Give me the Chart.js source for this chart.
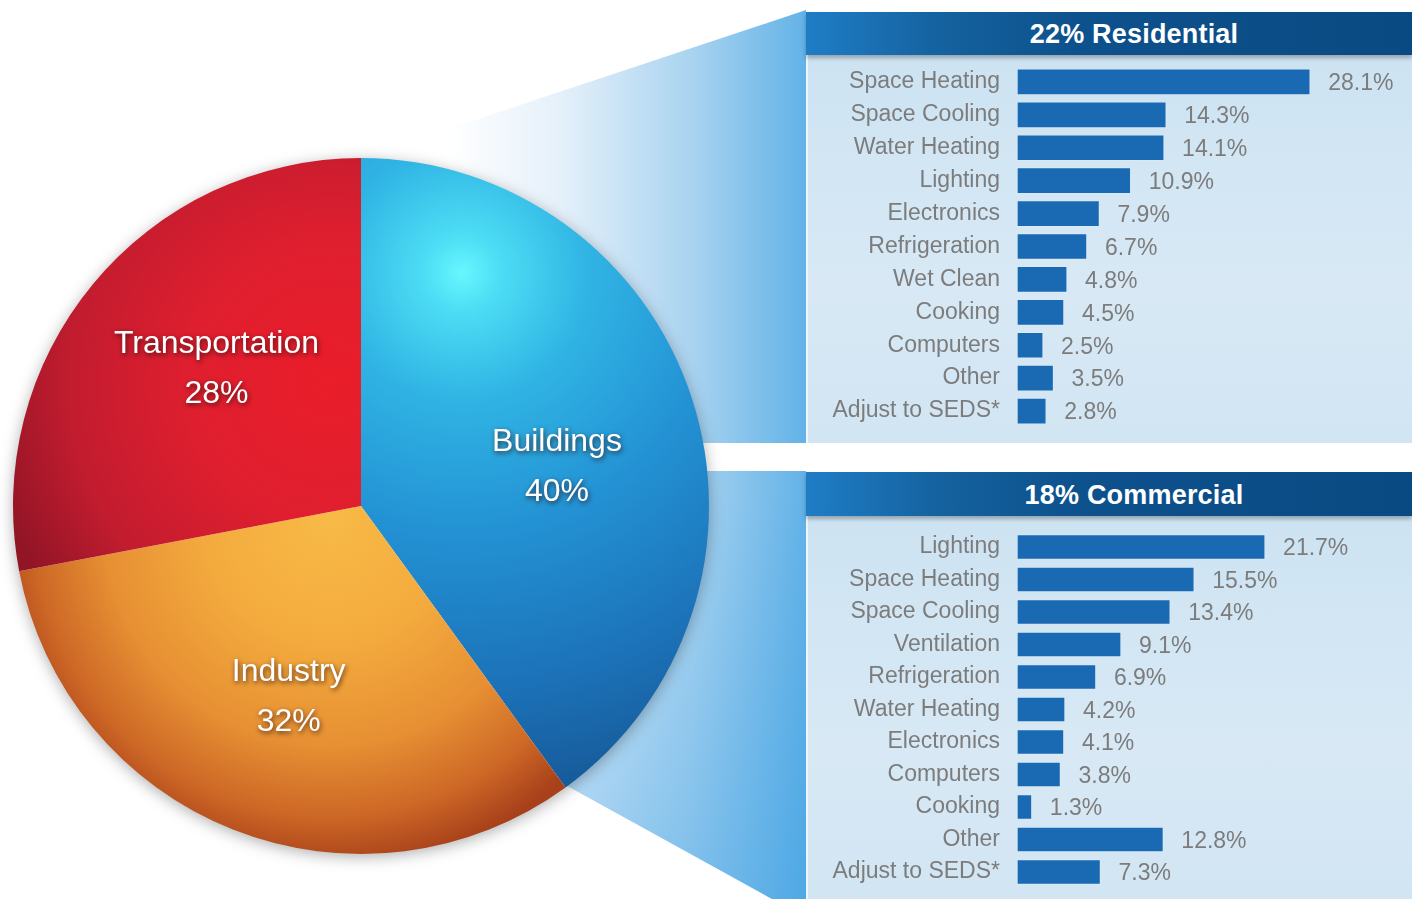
<!DOCTYPE html>
<html>
<head>
<meta charset="utf-8">
<script src="https://cdn.jsdelivr.net/npm/chart.js@4.4.1/dist/chart.umd.min.js"></script>
<style>
  html, body { margin: 0; padding: 0; background: #fff; }
  #stage { position: relative; width: 1412px; height: 899px; overflow: hidden; background: #fff;
           font-family: "Liberation Sans", Arial, sans-serif; }
  .funnel { position: absolute; left: 400px; top: 0; width: 406px; height: 899px;
            clip-path: polygon(30px 135px, 406px 10px, 406px 899px, 372px 899px, 160px 782px);
            background:
              linear-gradient(to bottom, rgba(40,150,225,0) 55%, rgba(40,150,225,0.35) 100%),
              linear-gradient(to right, #ffffff 12%, #e4f0fa 40%, #a9d3f0 72%, #62b2e7 100%); }
  .gap { position: absolute; left: 690px; top: 443px; width: 722px; height: 28px; background: #fff; }
  .panel-body { position: absolute; left: 806px; width: 606px; box-sizing: border-box;
                border-left: 2px solid #eef6fc;
                background: linear-gradient(to bottom, #cde3f2, #d8e9f5 60%, #d2e5f3); }
  .panel-head { position: absolute; left: 806px; width: 606px; box-sizing: border-box;
                padding-left: 50px; text-align: center; color: #fff; font-weight: bold;
                font-size: 27px; letter-spacing: 0.2px;
                background: linear-gradient(to right, #1f7dc6 0%, #14629f 22%, #0d518d 45%, #0a4a82 100%);
                box-shadow: 0 3px 4px rgba(0,0,0,0.28); z-index: 2; }
  canvas { position: absolute; }
</style>
</head>
<body>
<div id="stage">
  <div class="funnel"></div>
  <div class="gap"></div>

  <div class="panel-body" style="top:55px;height:388px;"></div>
  <div class="panel-head" id="resHead" style="top:12px;height:43px;line-height:45px;"></div>
  <canvas id="resChart" width="606" height="388" style="left:806px;top:55px;z-index:3;"></canvas>

  <div class="panel-body" style="top:516px;height:383px;"></div>
  <div class="panel-head" id="comHead" style="top:472px;height:44px;line-height:46px;"></div>
  <canvas id="comChart" width="606" height="383" style="left:806px;top:516px;z-index:3;"></canvas>

  <canvas id="pieChart" width="742" height="742" style="left:-10px;top:135px;z-index:4;"></canvas>
</div>

<script>
// end-use energy shares
const pieLabels = ['Buildings', 'Industry', 'Transportation'];
const pieShares = [40, 32, 28];

const resTitle = '22% Residential';
const resLabels = ['Space Heating', 'Space Cooling', 'Water Heating', 'Lighting', 'Electronics',
  'Refrigeration', 'Wet Clean', 'Cooking', 'Computers', 'Other', 'Adjust to SEDS*'];
const resValues = [28.1, 14.3, 14.1, 10.9, 7.9, 6.7, 4.8, 4.5, 2.5, 3.5, 2.8];

const comTitle = '18% Commercial';
const comLabels = ['Lighting', 'Space Heating', 'Space Cooling', 'Ventilation', 'Refrigeration',
  'Water Heating', 'Electronics', 'Computers', 'Cooking', 'Other', 'Adjust to SEDS*'];
const comValues = [21.7, 15.5, 13.4, 9.1, 6.9, 4.2, 4.1, 3.8, 1.3, 12.8, 7.3];

const FONT = '"Liberation Sans", Arial, sans-serif';
const GREY = '#7c7c7c';

document.getElementById('resHead').textContent = resTitle;
document.getElementById('comHead').textContent = comTitle;

// ---- pie ----
// each slice gets its own radial shading, offsets are relative to the pie radius
const sliceShading = [
  { fx: 0.29, fy: -0.67, rr: 1.65, stops: [[0, '#66f7ff'], [0.07, '#4cdcf4'], [0.22, '#30b4e4'], [0.45, '#2392d4'], [0.72, '#1c72b8'], [1, '#14508c']] },
  { fx: -0.09, fy: 0.04, rr: 1.0, stops: [[0, '#f8ba46'], [0.35, '#f4ab3e'], [0.65, '#e68f33'], [0.85, '#cd6826'], [1, '#a8401a']] },
  { fx: -0.09, fy: -0.36, rr: 1.0, stops: [[0, '#ea1d2a'], [0.4, '#df1f2f'], [0.75, '#c21c2f'], [1, '#921526']] }
];
const flatColors = ['#2394d5', '#f0a33c', '#d41f31'];
const labelShift = [[4, 24], [2, 4], [11, -8]];

function sliceFill(c) {
  const area = c.chart.chartArea;
  if (!area) return flatColors[c.dataIndex];
  const cx = (area.left + area.right) / 2;
  const cy = (area.top + area.bottom) / 2;
  const r = Math.min(area.right - area.left, area.bottom - area.top) / 2;
  const s = sliceShading[c.dataIndex];
  const gx = cx + s.fx * r, gy = cy + s.fy * r;
  const g = c.chart.ctx.createRadialGradient(gx, gy, 0, gx, gy, s.rr * r);
  s.stops.forEach(([p, col]) => g.addColorStop(p, col));
  return g;
}

const pieDecor = {
  id: 'pieDecor',
  beforeDatasetsDraw(chart) {
    // soft drop shadow under the whole disc
    const arc = chart.getDatasetMeta(0).data[0];
    if (!arc) return;
    const { x, y, outerRadius } = arc.getProps(['x', 'y', 'outerRadius'], true);
    const ctx = chart.ctx;
    ctx.save();
    ctx.shadowColor = 'rgba(0,0,0,0.35)';
    ctx.shadowBlur = 16;
    ctx.shadowOffsetY = 3;
    ctx.fillStyle = '#ffffff';
    ctx.beginPath();
    ctx.arc(x, y, outerRadius - 1, 0, Math.PI * 2);
    ctx.fill();
    ctx.restore();
  },
  afterDatasetsDraw(chart) {
    const ctx = chart.ctx;
    chart.getDatasetMeta(0).data.forEach((arc, i) => {
      const { x, y, startAngle, endAngle, outerRadius } =
        arc.getProps(['x', 'y', 'startAngle', 'endAngle', 'outerRadius'], true);
      const mid = (startAngle + endAngle) / 2;
      const tx = x + Math.cos(mid) * outerRadius * 0.58 + labelShift[i][0];
      const ty = y + Math.sin(mid) * outerRadius * 0.58 + labelShift[i][1];
      ctx.save();
      ctx.font = '32px ' + FONT;
      ctx.fillStyle = '#ffffff';
      ctx.textAlign = 'center';
      ctx.textBaseline = 'middle';
      ctx.shadowColor = 'rgba(40,10,10,0.75)';
      ctx.shadowBlur = 5;
      ctx.shadowOffsetX = 1;
      ctx.shadowOffsetY = 2;
      ctx.fillText(pieLabels[i], tx, ty - 25);
      ctx.fillText(pieShares[i] + '%', tx, ty + 25);
      ctx.restore();
    });
  }
};

new Chart(document.getElementById('pieChart'), {
  type: 'pie',
  data: {
    labels: pieLabels,
    datasets: [{ data: pieShares, backgroundColor: sliceFill, borderWidth: 0 }]
  },
  options: {
    responsive: false,
    animation: false,
    layout: { padding: 23 },
    plugins: { legend: { display: false }, tooltip: { enabled: false } }
  },
  plugins: [pieDecor]
});

// ---- horizontal bar panels ----
const valueLabels = {
  id: 'valueLabels',
  afterDatasetsDraw(chart) {
    const ctx = chart.ctx;
    const values = chart.data.datasets[0].data;
    chart.getDatasetMeta(0).data.forEach((bar, i) => {
      ctx.save();
      ctx.font = '23px ' + FONT;
      ctx.fillStyle = GREY;
      ctx.textAlign = 'left';
      ctx.textBaseline = 'middle';
      ctx.fillText(values[i].toFixed(1) + '%', bar.x + 18, bar.y + 2);
      ctx.restore();
    });
  }
};

function barPanel(id, labels, values, padRight, padTop, padBottom, thickness) {
  return new Chart(document.getElementById(id), {
    type: 'bar',
    data: {
      labels: labels,
      datasets: [{
        data: values,
        backgroundColor: '#1a69b3',
        borderColor: 'rgba(220,235,247,0.7)',
        borderWidth: 1,
        borderSkipped: false,
        barThickness: thickness
      }]
    },
    options: {
      indexAxis: 'y',
      responsive: false,
      animation: false,
      layout: { padding: { left: 0, right: padRight, top: padTop, bottom: padBottom } },
      scales: {
        x: { display: false, min: 0, max: 30 },
        y: {
          // fixed label column; drop the label overhang so rows fill the panel
          afterFit(scale) {
            scale.width = 211;
            scale.paddingTop = 0;
            scale.paddingBottom = 0;
          },
          grid: { display: false, drawTicks: false },
          border: { display: false },
          ticks: { color: GREY, padding: 17, font: { family: FONT, size: 23 } }
        }
      },
      plugins: { legend: { display: false }, tooltip: { enabled: false } }
    },
    plugins: [valueLabels]
  });
}

barPanel('resChart', resLabels, resValues, 82, 10.5, 15.5, 26);
barPanel('comChart', comLabels, comValues, 52, 14.75, 10.75, 25);
</script>
</body>
</html>
